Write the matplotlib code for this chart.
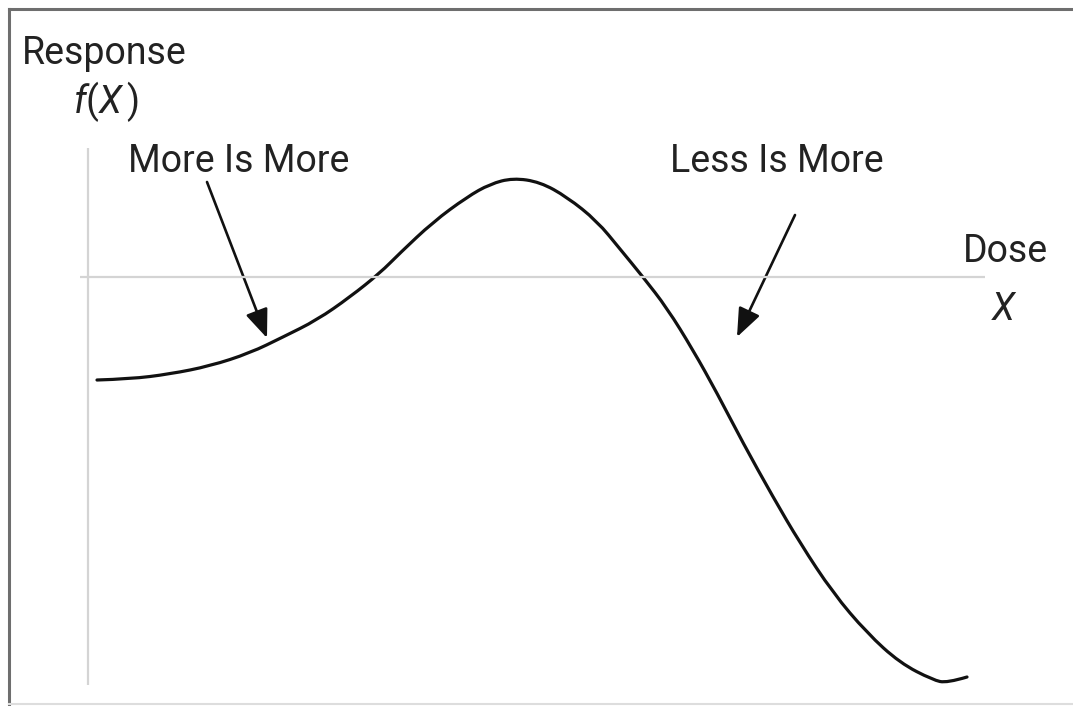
import matplotlib
matplotlib.use("Agg")
import matplotlib.pyplot as plt
from matplotlib.patches import FancyArrowPatch, PathPatch
from matplotlib.path import Path
from matplotlib.lines import Line2D

# ---- data (dose X, response f(X)) ----
dose = [0.09, 0.42, 0.82, 1.22, 1.62, 1.95, 2.29, 2.62, 2.92, 3.12, 3.45, 3.79,
        4.02, 4.25, 4.52, 4.79, 5.09, 5.32, 5.55, 5.79, 6.05, 6.29, 6.55, 6.85,
        7.12, 7.45, 7.79, 8.12, 8.45, 8.59, 8.79]
response = [-1.03, -1.02, -0.97, -0.89, -0.76, -0.60, -0.43, -0.20, 0.04, 0.24, 0.55, 0.80,
            0.93, 0.99, 0.95, 0.80, 0.56, 0.28, 0.00, -0.31, -0.73, -1.16, -1.66, -2.20,
            -2.66, -3.16, -3.56, -3.86, -4.03, -4.06, -4.00]

labels = ["More Is More", "Less Is More"]
arrow_tails = [(1.19, 0.95), (7.07, 0.62)]
arrow_tips = [(1.79, -0.61), (6.49, -0.60)]

FONT = "Roboto"
plt.rcParams['font.family'] = [FONT, 'DejaVu Sans']
plt.rcParams['mathtext.fontset'] = 'custom'
plt.rcParams['mathtext.rm'] = FONT
plt.rcParams['mathtext.it'] = FONT + ':italic'

fig = plt.figure(figsize=(10.73, 7.06), dpi=100)
ax = fig.add_axes([0, 0, 1, 1])
ax.set_xlim(-0.88, 9.85)
ax.set_ylim(-4.29, 2.77)
ax.axis('off')

# frame around the figure
fig.add_artist(Line2D([0.0085, 1.0], [1 - 9/706, 1 - 9/706], color='#6e6e6e', lw=2.2,
                      transform=fig.transFigure))
fig.add_artist(Line2D([0.0085, 0.0085], [1 - 9/706, 2/706], color='#6e6e6e', lw=2.2,
                      transform=fig.transFigure))
fig.add_artist(Line2D([0.0085, 1.0], [2/706, 2/706], color='#dddddd', lw=1.5,
                      transform=fig.transFigure))

# axes lines
ax.plot([0, 0], [-4.08, 1.29], color='#d4d4d4', lw=1.6, solid_capstyle='butt')
ax.plot([-0.08, 8.97], [0, 0], color='#d4d4d4', lw=1.6, solid_capstyle='butt')

# curve: smooth quadratic-Bezier path through the read points
pts = list(zip(dose, response))
verts = [pts[0]]
codes = [Path.MOVETO]
for i in range(1, len(pts) - 1):
    ctrl = pts[i]
    if i < len(pts) - 2:
        end = ((pts[i][0] + pts[i + 1][0]) / 2, (pts[i][1] + pts[i + 1][1]) / 2)
    else:
        end = pts[i + 1]
    verts += [ctrl, end]
    codes += [Path.CURVE3, Path.CURVE3]
ax.add_patch(PathPatch(Path(verts, codes), fill=False, edgecolor='#111111', lw=2.3,
                       capstyle='round', joinstyle='round'))

# arrows
for tail, tip in zip(arrow_tails, arrow_tips):
    arr = FancyArrowPatch(tail, tip, arrowstyle='-|>,head_length=1.25,head_width=0.5',
                          mutation_scale=14, color='#111111', lw=1.9, shrinkA=0, shrinkB=0)
    ax.add_patch(arr)

# texts
tc = '#222222'
fs = 27
ax.text(-0.66, 2.13, "Response", fontsize=fs, color=tc, ha='left', va='baseline')
ax.text(-0.15, 1.64, r"$\mathit{f}\mathrm{(}\mathit{X}\,\mathrm{)}$", fontsize=fs, color=tc,
        ha='left', va='baseline')
ax.text(0.40, 1.05, labels[0], fontsize=fs, color=tc, ha='left', va='baseline')
ax.text(5.82, 1.05, labels[1], fontsize=fs, color=tc, ha='left', va='baseline')
ax.text(8.75, 0.15, "Dose", fontsize=fs, color=tc, ha='left', va='baseline')
ax.text(9.15, -0.43, "X", fontsize=fs, color=tc, ha='center', va='baseline', style='italic')

fig.savefig("out.png", dpi=100, facecolor='white')
